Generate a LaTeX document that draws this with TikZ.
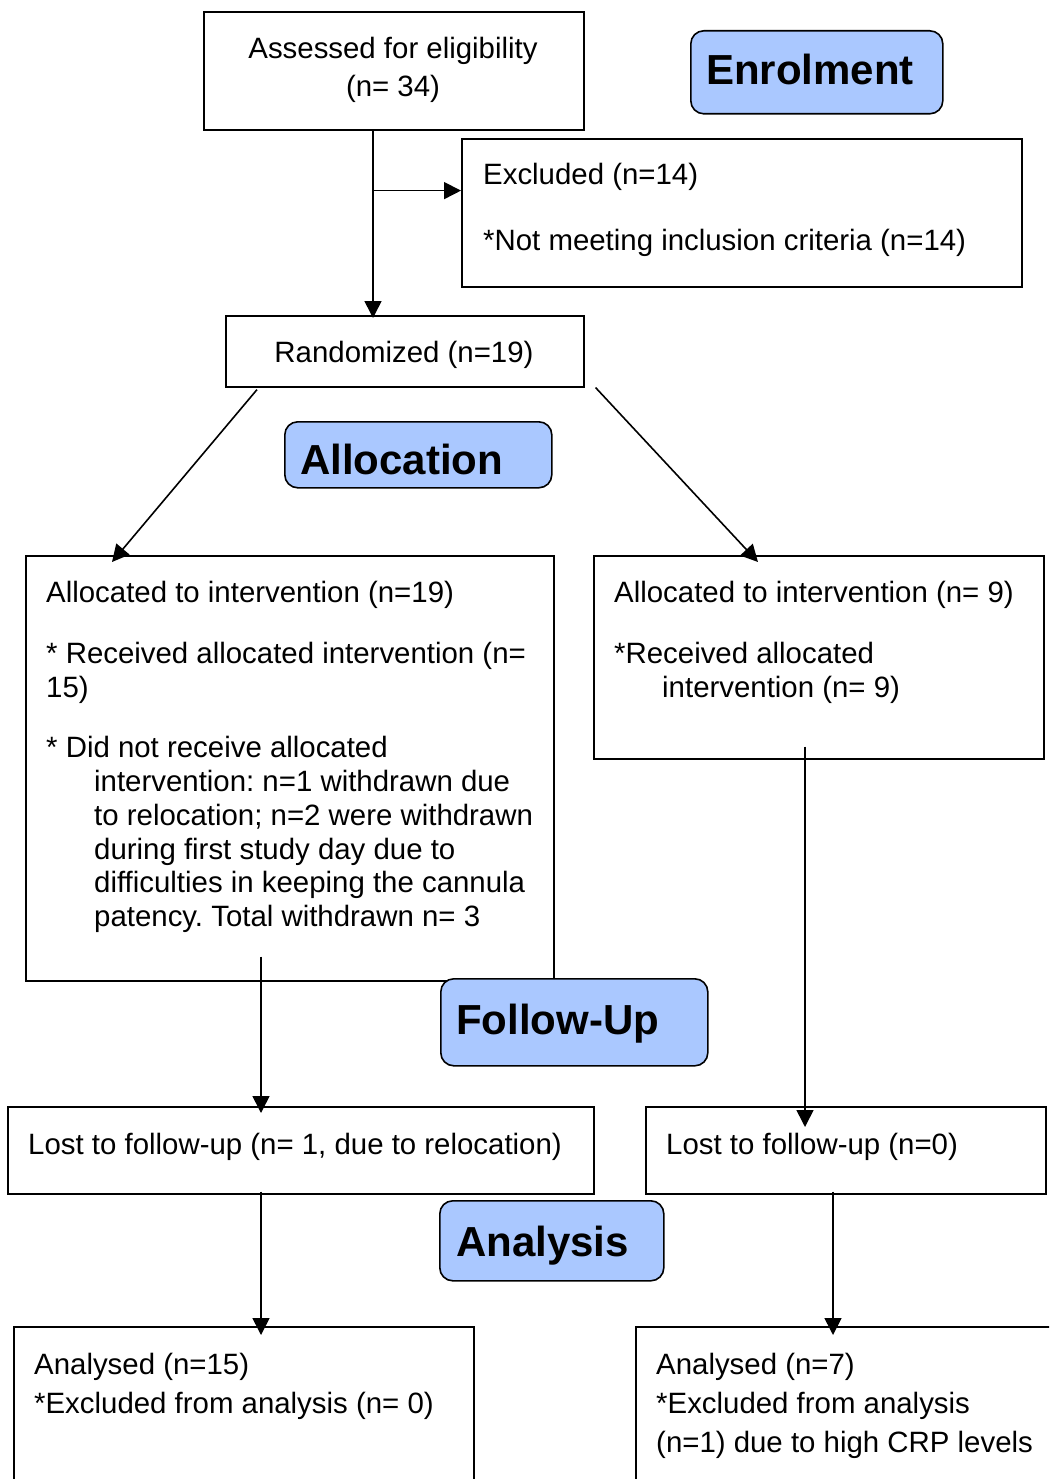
\documentclass[tikz,border=0pt]{standalone}
\usepackage{fontspec}
\setmainfont{Liberation Sans}
\frenchspacing
\usetikzlibrary{calc,arrows.meta}
\definecolor{phase}{RGB}{170,200,255}
\tikzset{
  box/.style={draw, line width=1.6pt, inner sep=0pt, anchor=north west, fill=white},
  phasebox/.style={draw, line width=1.6pt, inner sep=0pt, anchor=north west, fill=phase, rounded corners=13pt},
  txt/.style={anchor=base west, inner sep=0pt, font=\fontsize{29.4}{34}\selectfont},
  ctxt/.style={anchor=base, inner sep=0pt, font=\fontsize{29.4}{34}\selectfont},
  ptxt/.style={anchor=base west, inner sep=0pt, font=\fontsize{42}{48}\selectfont\bfseries},
  arr/.style={line width=1.6pt, -{Triangle[length=17pt,width=17pt]}},
}
\begin{document}
\begin{tikzpicture}[x=1pt,y=-1pt]
\useasboundingbox (0,0) rectangle (1049,1479);
\clip (0,0) rectangle (1049,1479);
% boxes
\node[box, minimum width=380pt, minimum height=118pt] (assess) at (203,11) {};
\node[phasebox, minimum width=252pt, minimum height=83pt] (enrol) at (690,30) {};
\node[box, minimum width=560pt, minimum height=148pt] (excl) at (461,138) {};
\node[box, minimum width=358pt, minimum height=71pt] (rand) at (225,315) {};
\node[phasebox, minimum width=267pt, minimum height=66pt] (alloc) at (284,421) {};
\node[box, minimum width=528pt, minimum height=425pt] (allocL) at (25,555) {};
\node[box, minimum width=450pt, minimum height=203pt] (allocR) at (593,555) {};
\node[phasebox, minimum width=267pt, minimum height=87pt] (follow) at (440,978) {};
\node[box, minimum width=586pt, minimum height=87pt] (lostL) at (7,1106) {};
\node[box, minimum width=400pt, minimum height=87pt] (lostR) at (645,1106) {};
\node[phasebox, minimum width=224pt, minimum height=80pt] (analysis) at (439,1200) {};
\node[box, minimum width=460pt, minimum height=200pt] (anaL) at (13,1326) {};
\node[box, minimum width=440pt, minimum height=200pt] (anaR) at (635,1326) {};
% texts
\node[ctxt] (t1) at (393,59) {Assessed for eligibility};
\node[ctxt] (t2) at (393,97) {(n= 34)};
\node[ptxt] (p1) at (706,85) {Enrolment};
\node[txt] (t3) at (483,185) {Excluded (n=14)};
\node[txt] (t4) at (483,251) {*Not meeting inclusion criteria (n=14)};
\node[ctxt] (t5) at (404,362) {Randomized (n=19)};
\node[ptxt] (p2) at (300,474) {Allocation};
\node[txt] (t6) at (46,602) {Allocated to intervention (n=19)};
\node[txt] (t7) at (46,663) {* Received allocated intervention (n=};
\node[txt] (t8) at (46,697) {15)};
\node[txt] (t9) at (46,757) {* Did not receive allocated};
\node[txt] (t10) at (94,791) {intervention: n=1 withdrawn due};
\node[txt] (t11) at (94,825) {to relocation; n=2 were withdrawn};
\node[txt] (t12) at (94,859) {during first study day due to};
\node[txt] (t13) at (94,892) {difficulties in keeping the cannula};
\node[txt] (t14) at (94,926) {patency. Total withdrawn n= 3};
\node[txt] (t15) at (614,602) {Allocated to intervention (n= 9)};
\node[txt] (t16) at (614,663) {*Received allocated};
\node[txt] (t17) at (662,697) {intervention (n= 9)};
\node[ptxt] (p3) at (456,1034) {Follow-Up};
\node[txt] (t18) at (28,1154) {Lost to follow-up (n= 1, due to relocation)};
\node[txt] (t19) at (666,1154) {Lost to follow-up (n=0)};
\node[ptxt] (p4) at (456,1256) {Analysis};
\node[txt] (t20) at (34,1374) {Analysed (n=15)};
\node[txt] (t21) at (34,1413) {*Excluded from analysis (n= 0)};
\node[txt] (t22) at (656,1374) {Analysed (n=7)};
\node[txt] (t23) at (656,1413) {*Excluded from analysis};
\node[txt] (t24) at (656,1452) {(n=1) due to high CRP levels};
% connectors
\coordinate (c0) at ($(assess.south west)+(170,0)$);
\coordinate (cb) at ($(c0)+(0,60)$);
\draw[arr] (c0) -- ($(c0 |- rand.north)+(0,3)$);
\draw[arr] (cb) -- (cb -| excl.west);
\draw[arr] ($(rand.south west)+(32,2)$) -- ($(allocL.north west)+(87,7)$);
\draw[arr] ($(rand.south east)+(11,0)$) -- ($(allocR.north west)+(165,7)$);
\coordinate (l1) at ($(allocL.south west)+(236,-25)$);
\draw[arr] (l1) -- ($(l1 |- lostL.north)+(0,7)$);
\coordinate (r1) at ($(allocR.south west)+(212,-13)$);
\draw[arr] (r1) -- ($(r1 |- lostR.north)+(0,21)$);
\coordinate (l2) at ($(lostL.south west)+(254,-3)$);
\draw[arr] (l2) -- ($(l2 |- anaL.north)+(0,9)$);
\coordinate (r2) at ($(lostR.south west)+(188,-3)$);
\draw[arr] (r2) -- ($(r2 |- anaR.north)+(0,9)$);
\end{tikzpicture}
\end{document}
